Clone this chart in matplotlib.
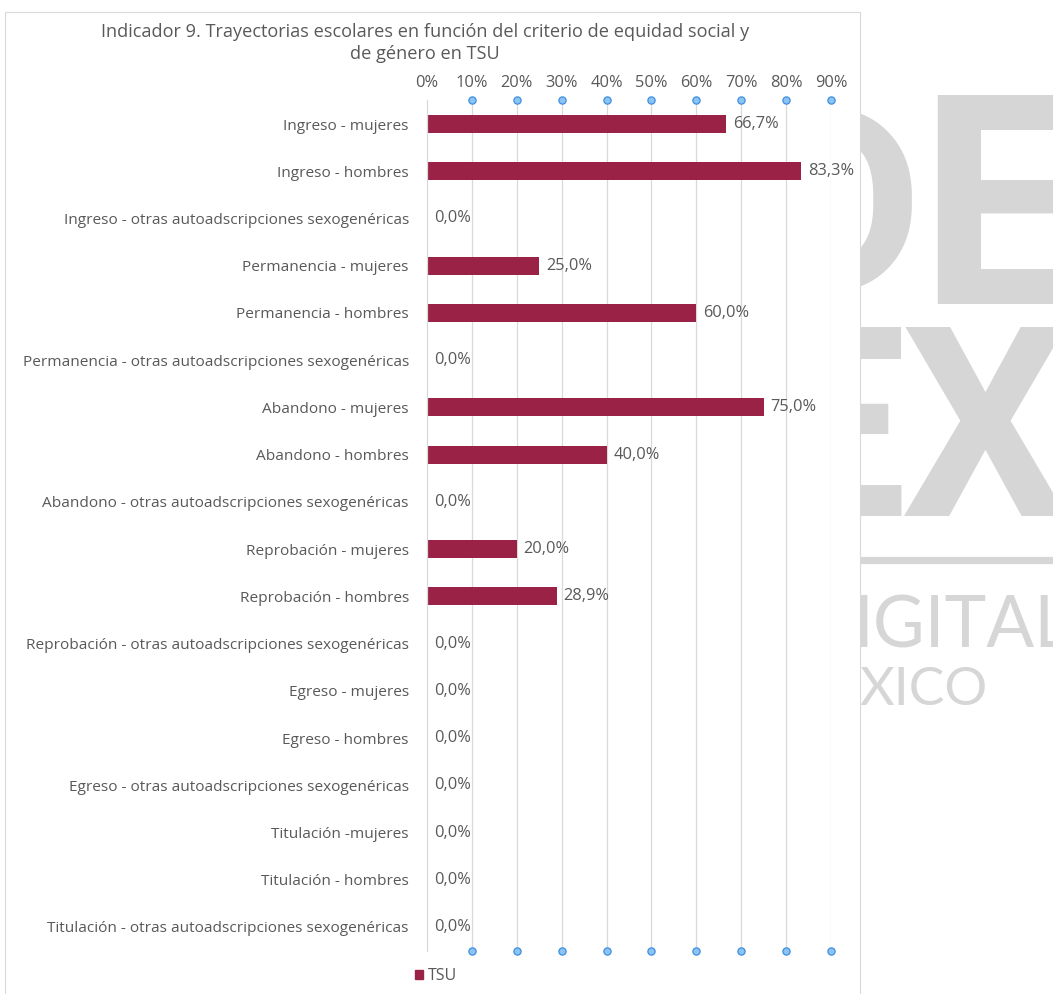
import matplotlib
matplotlib.use("Agg")
import matplotlib.pyplot as plt
from matplotlib.patches import Rectangle
from matplotlib.lines import Line2D

# ---------------- data ----------------
categories = [
    "Ingreso - mujeres",
    "Ingreso - hombres",
    "Ingreso - otras autoadscripciones sexogenéricas",
    "Permanencia - mujeres",
    "Permanencia - hombres",
    "Permanencia - otras autoadscripciones sexogenéricas",
    "Abandono - mujeres",
    "Abandono - hombres",
    "Abandono - otras autoadscripciones sexogenéricas",
    "Reprobación - mujeres",
    "Reprobación - hombres",
    "Reprobación - otras autoadscripciones sexogenéricas",
    "Egreso - mujeres",
    "Egreso - hombres",
    "Egreso - otras autoadscripciones sexogenéricas",
    "Titulación -mujeres",
    "Titulación - hombres",
    "Titulación - otras autoadscripciones sexogenéricas",
]
tsu_values = [0.667, 0.833, 0.0, 0.25, 0.60, 0.0, 0.75, 0.40, 0.0,
              0.20, 0.289, 0.0, 0.0, 0.0, 0.0, 0.0, 0.0, 0.0]
x_ticks = [0.0, 0.1, 0.2, 0.3, 0.4, 0.5, 0.6, 0.7, 0.8, 0.9]
x_tick_labels = ["0%", "10%", "20%", "30%", "40%", "50%", "60%", "70%", "80%", "90%"]
series_name = "TSU"
title = ("Indicador 9. Trayectorias escolares en función del criterio de equidad social y\n"
         "de género en TSU")

# ---------------- style ----------------
W, H = 1053, 994
BAR = "#9B2247"
TXT = "#595959"
GRID = "#d9d9d9"
WM = "#d6d6d6"
FONT = ["Open Sans", "DejaVu Sans"]
plt.rcParams["font.family"] = FONT

fig = plt.figure(figsize=(W / 100, H / 100), dpi=100)
fig.patch.set_facecolor("white")


def fx(x):
    return x / W


def fy(y):
    return 1 - y / H


# ---- background watermark (partly hidden behind chart box) ----
wm_kw = dict(color=WM, zorder=-3, va="baseline")
BIG = "Roboto"
fig.text(fx(923), fy(292), "D", ha="right", fontsize=186, fontweight="bold",
         family=BIG, **wm_kw)
fig.text(fx(918), fy(304), "E", ha="left", fontsize=212, fontweight="bold",
         family=BIG, **wm_kw)
fig.text(fx(906), fy(516), "E", ha="right", fontsize=191, fontweight="bold",
         family=BIG, **wm_kw)
fig.text(fx(900), fy(516), "X", ha="left", fontsize=191, fontweight="bold",
         family=BIG, **wm_kw)
fig.add_artist(Line2D([fx(850), fx(1060)], [fy(559.5), fy(559.5)], lw=5.2,
                      color=WM, zorder=-3))
fig.text(fx(853), fy(647), "IGITAL", ha="left", fontsize=51, fontweight="normal",
         family="Lato", **wm_kw)
fig.text(fx(859), fy(705), "XICO", ha="left", fontsize=38.5, fontweight="normal",
         family="Lato", **wm_kw)

# ---- white chart box ----
fig.patches.append(Rectangle((fx(4.5), fy(1000)), fx(860) - fx(4.5), fy(12) - fy(1000),
                             transform=fig.transFigure, facecolor="white",
                             edgecolor=GRID, lw=0.8, zorder=-2))

# ---------------- axes ----------------
left, right = 427, 831
top, bottom = 100.4, 950.6
ax = fig.add_axes([fx(left), fy(bottom), fx(right) - fx(left), (bottom - top) / H])
ax.set_facecolor("none")

n = len(categories)
ypos = list(range(n))
ax.barh(ypos, tsu_values, height=0.38, color=BAR, zorder=3)
ax.set_ylim(n - 0.5, -0.5)
ax.set_xlim(x_ticks[0], x_ticks[-1])

ax.set_yticks(ypos)
ax.set_yticklabels(categories, fontsize=11.1, color=TXT)
ax.tick_params(axis="y", length=0, pad=13)

ax.xaxis.tick_top()
ax.set_xticks(x_ticks)
ax.set_xticklabels(x_tick_labels, fontsize=11.8, color=TXT)
ax.tick_params(axis="x", length=0, pad=6.5)

for s in ["top", "right", "bottom"]:
    ax.spines[s].set_visible(False)
ax.spines["left"].set_color(GRID)
ax.spines["left"].set_linewidth(0.9)
ax.spines["left"].set_zorder(4)

# vertical gridlines
for xv in x_ticks[1:]:
    ax.axvline(xv, color=GRID, lw=0.9, zorder=1)

# blue end dots on gridlines (top & bottom)
for yv in (-0.5, n - 0.5):
    ax.plot(x_ticks[1:], [yv] * (len(x_ticks) - 1), ls="none", marker="o",
            ms=5.2, mfc="#8dc3f2", mec="#3d8fe0", mew=0.9, clip_on=False, zorder=5)

# data labels
for yv, v in zip(ypos, tsu_values):
    lab = f"{v * 100:.1f}%".replace(".", ",")
    ax.annotate(lab, (v, yv), xytext=(5, 0), textcoords="offset points",
                ha="left", va="center", fontsize=11.8, color=TXT, zorder=6)

# title
fig.text(fx(425), fy(43), title, ha="center", va="center", fontsize=13.1,
         color=TXT, linespacing=1.3)

# legend
ax.legend([Rectangle((0, 0), 1, 1, color=BAR)], [series_name],
          loc="center", bbox_to_anchor=(fx(436), fy(976)),
          bbox_transform=fig.transFigure, frameon=False, fontsize=11.5,
          handlelength=0.5, handleheight=0.5, handletextpad=0.3,
          labelcolor=TXT)

fig.savefig("out.png", dpi=100)
